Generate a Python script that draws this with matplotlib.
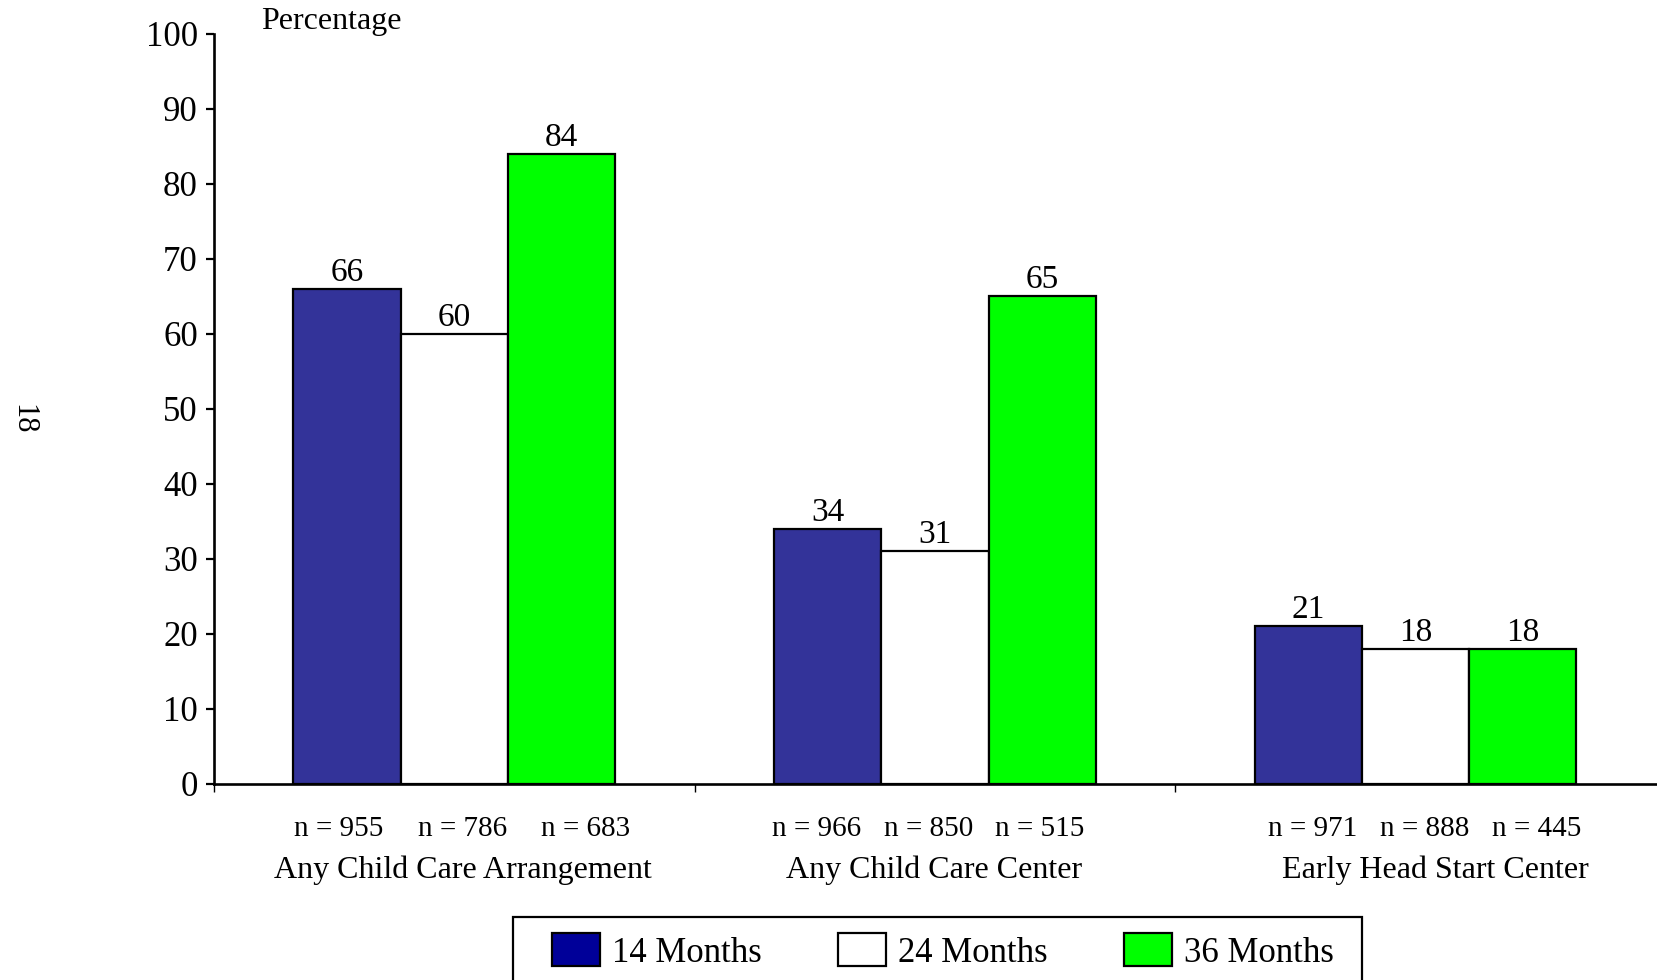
import numpy as np
import matplotlib
matplotlib.use("Agg")
import matplotlib.pyplot as plt
from matplotlib.patches import Patch, Rectangle
from matplotlib import transforms

plt.rcParams['font.family'] = ['Liberation Serif', 'DejaVu Serif']

# 数据
categories = ['Any Child Care Arrangement', 'Any Child Care Center', 'Early Head Start Center']
series = ['14 Months', '24 Months', '36 Months']
pct_14 = [66, 34, 21]
pct_24 = [60, 31, 18]
pct_36 = [84, 65, 18]
n_14 = [955, 966, 971]
n_24 = [786, 850, 888]
n_36 = [683, 515, 445]
yticks = list(range(0, 101, 10))

bar_colors = ['#333399', '#ffffff', '#00ff00']
legend_colors = ['#000099', '#ffffff', '#00ff00']

# 画布
fig = plt.figure(figsize=(16.57, 9.8), dpi=100)
ax = fig.add_axes([0.1291, 0.2005, 0.8703, 0.7653])

x = np.arange(len(categories))
w = 0.223
values = [pct_14, pct_24, pct_36]
for k, (vals, col) in enumerate(zip(values, bar_colors)):
    pos = x + (k - 1) * w
    ax.bar(pos, vals, width=w, color=col, edgecolor='black', linewidth=1.6, zorder=2)
    for px, v in zip(pos, vals):
        ax.annotate(str(v), (px, v), xytext=(0, 5.5), textcoords='offset points',
                    ha='center', va='baseline', fontsize=24)

ax.set_xlim(-0.5, 2.5)
ax.set_ylim(0, 100)
ax.set_yticks(yticks)
ax.set_yticklabels([str(t) for t in yticks], fontsize=25)
ax.set_xticks([-0.5, 0.5, 1.5])
ax.set_xticklabels([])
ax.tick_params(axis='y', direction='out', length=6, width=1.6, pad=5.5)
ax.tick_params(axis='x', direction='out', length=6, width=1.0)
for s in ['top', 'right']:
    ax.spines[s].set_visible(False)
for s in ['left', 'bottom']:
    ax.spines[s].set_linewidth(1.9)

# 样本量和类别名
trans = transforms.blended_transform_factory(ax.transData, ax.transAxes)
n_shift = [0.017, -0.014, 0.019]
n_step = [0.257, 0.232, 0.233]
cat_shift = [0.019, -0.002, 0.042]
n_all = [n_14, n_24, n_36]
for i in range(len(categories)):
    for k in range(3):
        ax.text(x[i] + n_shift[i] + (k - 1) * n_step[i], -0.061,
                'n = %d' % n_all[k][i], transform=trans,
                ha='center', va='center', fontsize=21)
    ax.text(x[i] + cat_shift[i], -0.1158, categories[i], transform=trans,
            ha='center', va='center', fontsize=23)

fig.text(261 / 1657, 1 - 22 / 980, 'Percentage', ha='left', va='center', fontsize=23)
fig.text(23 / 1657, 1 - 419 / 980, '18', rotation=-90, ha='center', va='center', fontsize=22)

# 图例
handles = [Patch(facecolor=c, edgecolor='black', linewidth=1.6) for c in legend_colors]
fig.legend(handles, series, loc='center', bbox_to_anchor=(943 / 1657, 1 - 951.5 / 980),
           ncol=3, frameon=False, fontsize=25, borderpad=0,
           handlelength=1.38, handleheight=1.07, handletextpad=0.35, columnspacing=2.2)
fig.patches.append(Rectangle((513 / 1657, -0.05), 849 / 1657, 0.05 + (980 - 917) / 980,
                             transform=fig.transFigure, fill=False,
                             edgecolor='black', linewidth=1.6))

fig.savefig('out.png', dpi=100)
